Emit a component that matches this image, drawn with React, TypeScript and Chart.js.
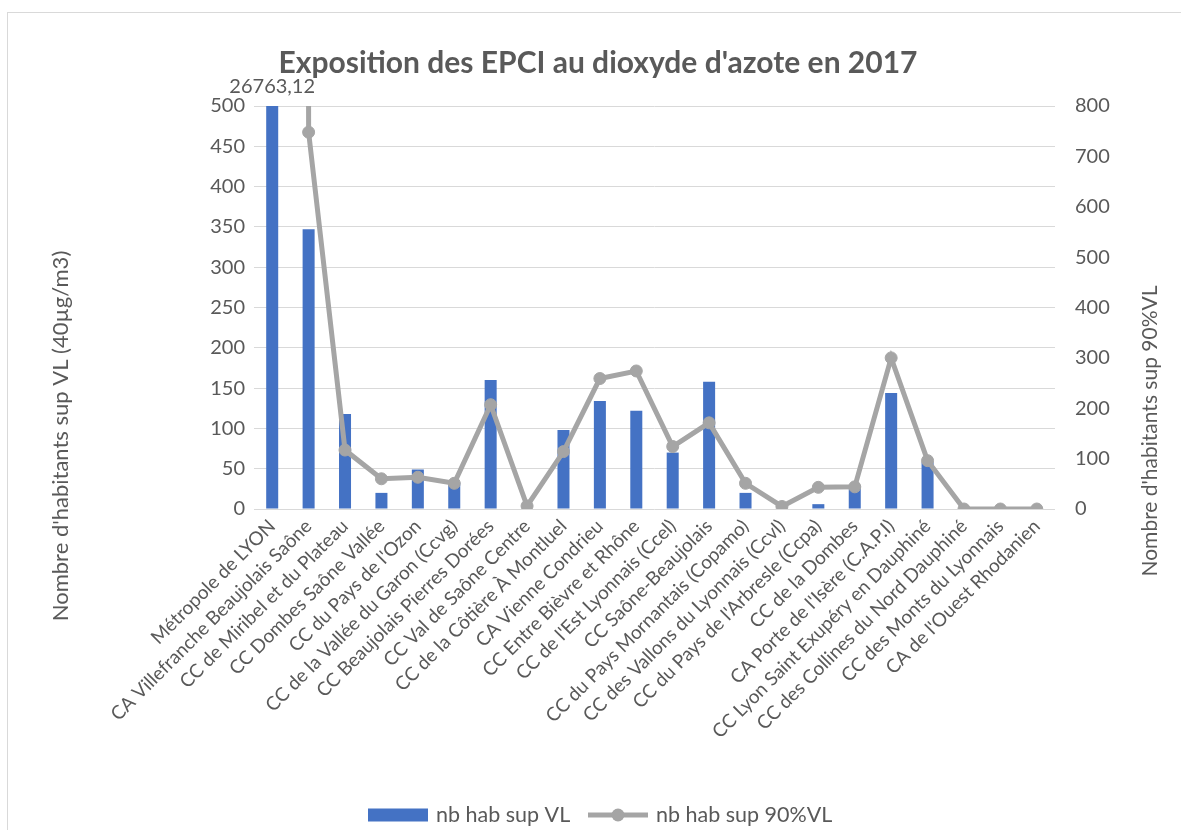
import React, { useEffect, useRef } from "react";
import { Chart, registerables } from "chart.js";

Chart.register(...registerables);

const FONT = "Lato";
const TEXT = "#595959";
const BAR_COLOR = "#4472C4";
const LINE_COLOR = "#A5A5A5";
const GRID_COLOR = "#D9D9D9";

const chartTitle = "Exposition des EPCI au dioxyde d'azote en 2017";
const leftAxisTitle = "Nombre d'habitants sup VL (40µg/m3)";
const rightAxisTitle = "Nombre d'habitants sup 90%VL";
const seriesNames = ["nb hab sup VL", "nb hab sup 90%VL"];

const categories = [
  "Métropole de LYON",
  "CA Villefranche Beaujolais Saône",
  "CC de Miribel et du Plateau",
  "CC Dombes Saône Vallée",
  "CC du Pays de l'Ozon",
  "CC de la Vallée du Garon (Ccvg)",
  "CC Beaujolais Pierres Dorées",
  "CC Val de Saône Centre",
  "CC de la Côtière À Montluel",
  "CA Vienne Condrieu",
  "CC Entre Bièvre et Rhône",
  "CC de l'Est Lyonnais (Ccel)",
  "CC Saône-Beaujolais",
  "CC du Pays Mornantais (Copamo)",
  "CC des Vallons du Lyonnais (Ccvl)",
  "CC du Pays de l'Arbresle (Ccpa)",
  "CC de la Dombes",
  "CA Porte de l'Isère (C.A.P.I)",
  "CC Lyon Saint Exupéry en Dauphiné",
  "CC des Collines du Nord Dauphiné",
  "CC des Monts du Lyonnais",
  "CA de l'Ouest Rhodanien",
];

// nb hab sup VL (left axis)
const barValues = [
  26763.12, 347, 118, 20, 49, 33, 160, 0, 98, 134, 122, 70, 158, 20, 0, 6, 28,
  144, 58, 0, 0, 0,
];

// nb hab sup 90%VL (right axis)
const lineValues = [
  120000, 748, 117, 60, 63, 51, 207, 6, 114, 259, 274, 124, 171, 51, 5, 43, 44,
  300, 96, 0, 0, 0,
];

const labelledBarIndices = [0];

const leftMax = 500;
const leftStep = 50;
const rightMax = 800;
const rightStep = 100;

function formatFr(v: number): string {
  return String(v).replace(".", ",");
}

const overlayPlugin = {
  id: "overlay",
  beforeDraw(chart: any) {
    const ctx = chart.ctx;
    ctx.save();
    ctx.strokeStyle = GRID_COLOR;
    ctx.lineWidth = 1;
    ctx.strokeRect(7.5, 12.5, 1200, 840);
    ctx.restore();
  },
  afterDatasetsDraw(chart: any) {
    const ctx = chart.ctx;
    const meta = chart.getDatasetMeta(0);
    ctx.save();
    ctx.fillStyle = TEXT;
    ctx.font = `20px ${FONT}`;
    ctx.textAlign = "center";
    ctx.textBaseline = "alphabetic";
    labelledBarIndices.forEach((i) => {
      const el = meta.data[i];
      ctx.fillText(formatFr(barValues[i]), el.x, chart.chartArea.top - 13);
    });
    ctx.restore();
  },
  afterDraw(chart: any) {
    const ctx = chart.ctx;
    ctx.save();
    ctx.fillStyle = TEXT;
    // Title
    ctx.font = `bold 30px ${FONT}`;
    ctx.textAlign = "center";
    ctx.textBaseline = "alphabetic";
    ctx.fillText(chartTitle, 598, 73);

    // Axis titles
    ctx.textBaseline = "middle";
    ctx.font = `22px ${FONT}`;
    ctx.save();
    ctx.translate(61, 436);
    ctx.rotate(-Math.PI / 2);
    ctx.fillText(leftAxisTitle, 0, 0);
    ctx.restore();
    ctx.font = `21px ${FONT}`;
    ctx.save();
    ctx.translate(1150, 431);
    ctx.rotate(-Math.PI / 2);
    ctx.fillText(rightAxisTitle, 0, 0);
    ctx.restore();

    // Legend
    const cy = 815;
    ctx.font = `21.5px ${FONT}`;
    ctx.textAlign = "left";
    ctx.textBaseline = "middle";
    ctx.fillStyle = BAR_COLOR;
    ctx.fillRect(368, cy - 6.5, 60, 13);
    ctx.fillStyle = TEXT;
    ctx.fillText(seriesNames[0], 436, cy);
    ctx.strokeStyle = LINE_COLOR;
    ctx.lineWidth = 5;
    ctx.beginPath();
    ctx.moveTo(588, cy);
    ctx.lineTo(648, cy);
    ctx.stroke();
    ctx.fillStyle = LINE_COLOR;
    ctx.beginPath();
    ctx.arc(618, cy, 6.5, 0, Math.PI * 2);
    ctx.fill();
    ctx.fillStyle = TEXT;
    ctx.fillText(seriesNames[1], 656, cy);
    ctx.restore();
  },
};

export default function App() {
  const canvasRef = useRef<HTMLCanvasElement | null>(null);

  useEffect(() => {
    const canvas = canvasRef.current;
    if (!canvas) return;
    const chart = new Chart(canvas, {
      type: "bar",
      data: {
        labels: categories,
        datasets: [
          {
            type: "bar",
            label: seriesNames[0],
            data: barValues,
            backgroundColor: BAR_COLOR,
            borderWidth: 0,
            yAxisID: "y",
            categoryPercentage: 1,
            barPercentage: 0.33,
            order: 2,
          },
          {
            type: "line",
            label: seriesNames[1],
            data: lineValues,
            borderColor: LINE_COLOR,
            backgroundColor: LINE_COLOR,
            borderWidth: 5,
            pointRadius: 6,
            pointBorderWidth: 1,
            pointBackgroundColor: LINE_COLOR,
            pointBorderColor: LINE_COLOR,
            tension: 0,
            yAxisID: "y1",
            order: 1,
          } as any,
        ],
      },
      options: {
        responsive: false,
        animation: false,
        devicePixelRatio: 1,
        layout: { padding: { top: 106, left: 0, right: 0, bottom: 0 } },
        plugins: {
          legend: { display: false },
          title: { display: false },
          tooltip: { enabled: false },
        },
        scales: {
          x: {
            grid: { display: false, drawTicks: false },
            border: { display: false },
            ticks: {
              autoSkip: false,
              minRotation: 45,
              maxRotation: 45,
              color: TEXT,
              font: { family: FONT, size: 19 },
              padding: 6,
            },
            afterFit: (scale: any) => {
              scale.height = 321;
            },
          },
          y: {
            position: "left",
            min: 0,
            max: leftMax,
            grid: { color: GRID_COLOR, lineWidth: 1, drawTicks: false },
            border: { display: false },
            ticks: {
              stepSize: leftStep,
              color: TEXT,
              font: { family: FONT, size: 20 },
              padding: 9,
            },
            afterFit: (scale: any) => {
              scale.width = 254;
            },
          },
          y1: {
            position: "right",
            min: 0,
            max: rightMax,
            grid: { display: false, drawTicks: false },
            border: { display: false },
            ticks: {
              stepSize: rightStep,
              color: TEXT,
              font: { family: FONT, size: 20 },
              padding: 20,
            },
            afterFit: (scale: any) => {
              scale.width = 126;
            },
          },
        },
      },
      plugins: [overlayPlugin],
    });
    return () => chart.destroy();
  }, []);

  return (
    <div
      style={{
        position: "absolute",
        left: 0,
        top: 0,
        width: 1181,
        height: 830,
        background: "#fff",
      }}
    >
      <canvas
        ref={canvasRef}
        width={1181}
        height={830}
        style={{ display: "block" }}
      />
    </div>
  );
}
